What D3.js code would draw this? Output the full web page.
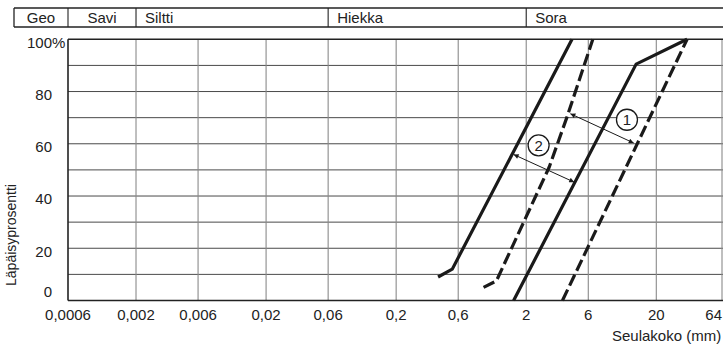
<!DOCTYPE html>
<html>
<head>
<meta charset="utf-8">
<script src="https://cdn.jsdelivr.net/npm/d3@7"></script>
<style>
  body { margin: 0; background: #fff; }
  text { font-family: "Liberation Sans", Arial, sans-serif; fill: #222; }
</style>
</head>
<body>
<svg id="chart" width="723" height="345"></svg>
<script>
// sieve sizes (mm) on the log axis
const xTicks = [0.0006, 0.002, 0.006, 0.02, 0.06, 0.2, 0.6, 2, 6, 20, 64]
const xTickLabels = ["0,0006", "0,002", "0,006", "0,02", "0,06", "0,2", "0,6", "2", "6", "20", "64"]
const yTicks = [0, 20, 40, 60, 80, 100]
const yGrid = [10, 20, 30, 40, 50, 60, 70, 80, 90]

// soil classes in the header row, with the sieve size where each ends
const headerNames = ["Geo", "Savi", "Siltti", "Hiekka", "Sora"]
const headerEdges = [0.0006, 0.002, 0.06, 2, 64]

// grading curves [size mm, passing %]
const zone2Fine = [[0.42, 9], [0.54, 12], [4.5, 100]]
const zone1Fine = [[0.94, 5], [1.18, 7.5], [3.0, 51], [4.1, 70], [6.5, 100]]
const zone2Coarse = [[1.6, 0], [14, 90.5], [34.5, 100]]
const zone1Coarse = [[3.8, 0], [34.5, 100]]

// width arrows and their circled numbers
const arrow1 = [[4.37, 71.5], [13.4, 60.3]]
const arrow2 = [[1.6, 55.9], [4.68, 45.3]]
const zoneLabels = [["1", 11.9, 69.2], ["2", 2.49, 59.4]]

var svg = d3.select('#chart')

var x = d3.scaleLog()
    .domain([0.0006, 64])
    .range([68, 722])
var y = d3.scaleLinear()
    .domain([0, 100])
    .range([300.5, 39.3])

// header table
var hdr = svg.append('g')
hdr.append('line').attr('x1', 14).attr('x2', 723).attr('y1', 8).attr('y2', 8)
    .style('stroke', '#222').style('stroke-width', 1.3)
hdr.append('line').attr('x1', 14).attr('x2', 723).attr('y1', 27).attr('y2', 27)
    .style('stroke', '#222').style('stroke-width', 1.3)
hdr.append('line').attr('x1', 14).attr('x2', 14).attr('y1', 8).attr('y2', 27)
    .style('stroke', '#222').style('stroke-width', 1.3)
hdr.selectAll('.div')
    .data(headerEdges.slice(0, 4))
    .enter()
    .append('line')
    .attr('x1', d => x(d)).attr('x2', d => x(d))
    .attr('y1', 8).attr('y2', 27)
    .style('stroke', '#222').style('stroke-width', 1.1)
hdr.selectAll('.hname')
    .data(headerNames)
    .enter()
    .append('text')
    .attr('x', function (d, idx) {
        if (idx == 0) return (14 + x(headerEdges[0])) / 2
        if (idx == 1) return (x(headerEdges[0]) + x(headerEdges[1])) / 2
        return x(headerEdges[idx - 1]) + 9
    })
    .attr('y', 18)
    .attr('dy', '0.35em')
    .attr('text-anchor', (d, idx) => idx < 2 ? 'middle' : 'start')
    .style('font-size', '15px')
    .text(d => d)

// grid
var grid = svg.append('g')
grid.selectAll('.hg')
    .data(yGrid)
    .enter()
    .append('line')
    .attr('x1', x(0.0006)).attr('x2', 723)
    .attr('y1', d => y(d)).attr('y2', d => y(d))
    .style('stroke', '#4a4a4a').style('stroke-width', 1)
grid.selectAll('.vg')
    .data(xTicks.slice(1))
    .enter()
    .append('line')
    .attr('x1', d => x(d)).attr('x2', d => x(d))
    .attr('y1', y(100)).attr('y2', y(0))
    .style('stroke', '#8a8a8a').style('stroke-width', 1.1)

// frame
svg.append('line').attr('x1', x(0.0006)).attr('x2', 723).attr('y1', y(100)).attr('y2', y(100))
    .style('stroke', '#222').style('stroke-width', 1.4)
svg.append('line').attr('x1', x(0.0006)).attr('x2', 723).attr('y1', y(0)).attr('y2', y(0))
    .style('stroke', '#222').style('stroke-width', 1.6)
svg.append('line').attr('x1', x(0.0006)).attr('x2', x(0.0006)).attr('y1', y(100)).attr('y2', y(0))
    .style('stroke', '#222').style('stroke-width', 1.6)

// tick labels
svg.selectAll('.xl')
    .data(xTicks)
    .enter()
    .append('text')
    .attr('x', d => x(d))
    .attr('y', 315)
    .attr('dy', '0.35em')
    .attr('text-anchor', (d, idx) => idx == xTicks.length - 1 ? 'end' : 'middle')
    .style('font-size', '15px')
    .text((d, idx) => xTickLabels[idx])

svg.selectAll('.yl')
    .data(yTicks)
    .enter()
    .append('text')
    .attr('x', 52)
    .attr('y', d => d == 0 ? y(d) - 9 : y(d) + 3)
    .attr('dy', '0.35em')
    .attr('text-anchor', 'end')
    .style('font-size', '15px')
    .text(d => d)
svg.append('text')
    .attr('x', 52).attr('y', y(100) + 3).attr('dy', '0.35em')
    .style('font-size', '15px')
    .text('%')

// axis titles
svg.append('text')
    .attr('transform', 'translate(11,235) rotate(-90)')
    .attr('dy', '0.35em')
    .attr('text-anchor', 'middle')
    .style('font-size', '14px')
    .text('Läpäisyprosentti')
svg.append('text')
    .attr('x', 612).attr('y', 336).attr('dy', '0.35em')
    .style('font-size', '15px')
    .text('Seulakoko (mm)')

// curves
var line = d3.line()
    .x(d => x(d[0]))
    .y(d => y(d[1]))

var curves = [[zone2Fine, false], [zone1Fine, true], [zone2Coarse, false], [zone1Coarse, true]]
curves.forEach(function (c) {
    svg.append('path')
        .attr('d', line(c[0]))
        .style('fill', 'none')
        .style('stroke', '#1a1a1a')
        .style('stroke-width', 3.2)
        .style('stroke-linejoin', 'miter')
        .style('stroke-dasharray', c[1] ? '12,4.5' : null)
})

// arrows
var defs = svg.append('defs')
defs.append('marker')
    .attr('id', 'ah')
    .attr('viewBox', '0 0 10 10')
    .attr('refX', 10).attr('refY', 5)
    .attr('markerWidth', 8).attr('markerHeight', 5)
    .attr('markerUnits', 'userSpaceOnUse')
    .attr('orient', 'auto-start-reverse')
    .append('path')
    .attr('d', 'M0,0L10,5L0,10z')
    .style('fill', '#1a1a1a')

;[arrow1, arrow2].forEach(function (a) {
    svg.append('path')
        .attr('d', line(a))
        .style('fill', 'none')
        .style('stroke', '#1a1a1a')
        .style('stroke-width', 1)
        .attr('marker-start', 'url(#ah)')
        .attr('marker-end', 'url(#ah)')
})

var lab = svg.selectAll('.zl')
    .data(zoneLabels)
    .enter()
    .append('g')
    .attr('transform', d => 'translate(' + x(d[1]) + ',' + y(d[2]) + ')')
lab.append('circle')
    .attr('r', 10.5)
    .style('fill', '#fff')
    .style('stroke', '#1a1a1a')
    .style('stroke-width', 1.3)
lab.append('text')
    .attr('dy', '0.36em')
    .attr('text-anchor', 'middle')
    .style('font-size', '15px')
    .text(d => d[0])
</script>
</body>
</html>
